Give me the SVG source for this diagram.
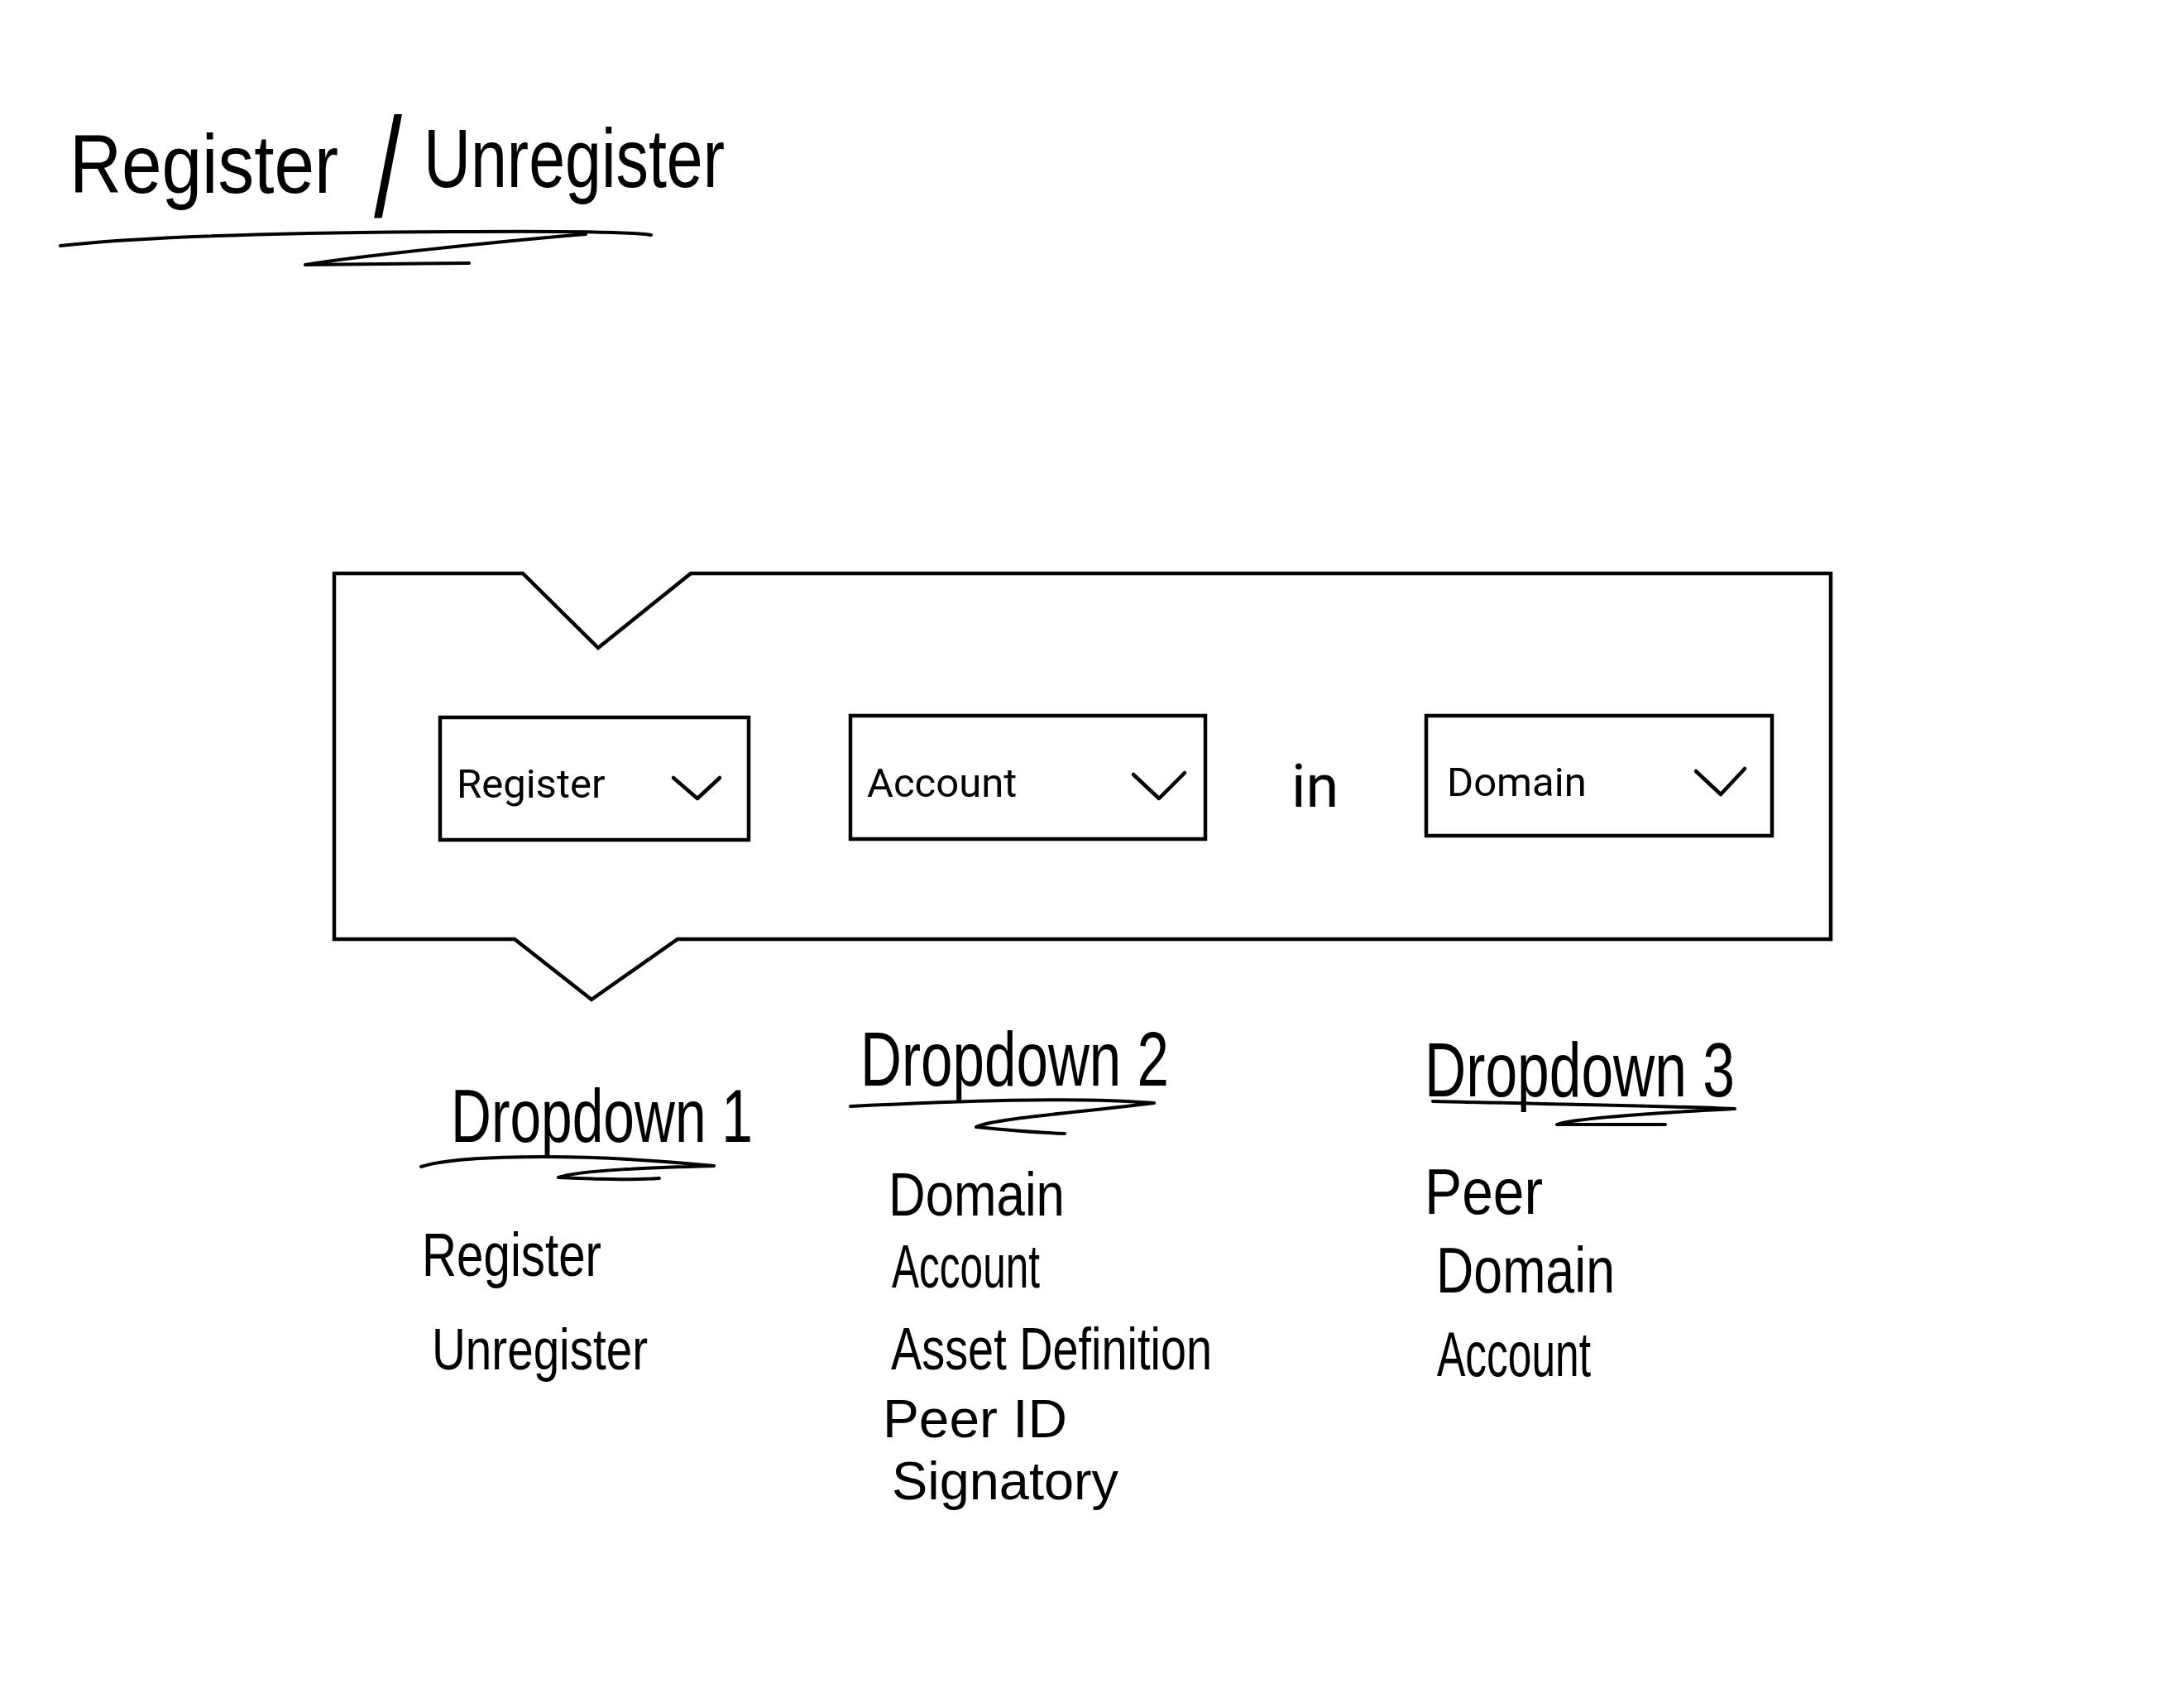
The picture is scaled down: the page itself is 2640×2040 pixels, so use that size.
<svg xmlns="http://www.w3.org/2000/svg" width="2640" height="2040" viewBox="0 0 2640 2040">
<style>
.ln{fill:none;stroke:#000;stroke-width:4.5;stroke-linejoin:miter;stroke-linecap:round}
.box{fill:#fff;stroke:#000;stroke-width:4.5}
.ui{font-family:Roboto,"Liberation Sans",sans-serif;font-size:49px;fill:#000}
.big{font-family:Roboto,"Liberation Sans",sans-serif;font-size:72px;fill:#000}
.hw{font-family:"Liberation Sans","DejaVu Sans",sans-serif;fill:#000}
.ul{fill:none;stroke:#000;stroke-width:4;stroke-linecap:round;stroke-linejoin:round}
.chev{fill:none;stroke:#000;stroke-width:4.5;stroke-linecap:round;stroke-linejoin:round}
</style>
<rect width="2640" height="2040" fill="#fff"/>

<g id="title">
<text class="hw" font-size="100" y="233"><tspan x="84" textLength="325" lengthAdjust="spacingAndGlyphs">Register</tspan><tspan x="452" y="262" font-size="170" textLength="34" lengthAdjust="spacingAndGlyphs">/</tspan><tspan x="512" y="226" textLength="364" lengthAdjust="spacingAndGlyphs">Unregister</tspan></text>
<path class="ul" d="M73,297 C180,285 350,281 550,280 C680,279 760,280 787,284"/>
<path class="ul" d="M708,283 C600,292 430,310 369,320 C450,319 520,318 567,318"/>
</g>

<g id="block">
<path class="ln" d="M404,693 L632,693 L723,783 L835,693 L2213,693 L2213,1135 L819,1135 L715,1208 L622,1135 L404,1135 Z"/>
</g>

<g id="dropdown1-box">
<rect class="box" x="532" y="867" width="373" height="148"/>
<text class="ui" x="552" y="964">Register</text>
<polyline class="chev" points="814,940 843,965 870,940"/>
</g>

<g id="dropdown2-box">
<rect class="box" x="1028" y="865" width="429" height="149"/>
<text class="ui" x="1048" y="963">Account</text>
<polyline class="chev" points="1370,936 1401,965 1432,934"/>
</g>

<g id="in-label">
<text class="big" x="1561" y="975">in</text>
</g>

<g id="dropdown3-box">
<rect class="box" x="1724" y="865" width="418" height="145"/>
<text class="ui" x="1749" y="962">Domain</text>
<polyline class="chev" points="2050,932 2080,960 2109,929"/>
</g>

<g id="dropdown1-notes">
<text class="hw" font-size="90" x="545" y="1380" textLength="365" lengthAdjust="spacingAndGlyphs">Dropdown 1</text>
<path class="ul" d="M509,1410 C540,1400 600,1398 660,1398 C740,1398 810,1404 863,1409 C790,1411 700,1414 675,1423 C720,1425 770,1426 797,1424"/>
<text class="hw" font-size="74" x="510" y="1542" textLength="217" lengthAdjust="spacingAndGlyphs">Register</text>
<text class="hw" font-size="70" x="522" y="1655" textLength="261" lengthAdjust="spacingAndGlyphs">Unregister</text>
</g>

<g id="dropdown2-notes">
<text class="hw" font-size="92" x="1040" y="1312" textLength="373" lengthAdjust="spacingAndGlyphs">Dropdown 2</text>
<path class="ul" d="M1028,1337 C1150,1331 1300,1325 1395,1333 C1300,1345 1200,1352 1180,1362 C1220,1366 1260,1369 1287,1370"/>
<text class="hw" font-size="74" x="1074" y="1469" textLength="213" lengthAdjust="spacingAndGlyphs">Domain</text>
<text class="hw" font-size="74" x="1078" y="1556" textLength="179" lengthAdjust="spacingAndGlyphs">Account</text>
<text class="hw" font-size="72" x="1077" y="1655" textLength="388" lengthAdjust="spacingAndGlyphs">Asset Definition</text>
<text class="hw" font-size="64" x="1067" y="1737" textLength="223" lengthAdjust="spacingAndGlyphs">Peer ID</text>
<text class="hw" font-size="64" x="1078" y="1812" textLength="274" lengthAdjust="spacingAndGlyphs">Signatory</text>
</g>

<g id="dropdown3-notes">
<text class="hw" font-size="92" x="1722" y="1325" textLength="375" lengthAdjust="spacingAndGlyphs">Dropdown 3</text>
<path class="ul" d="M1732,1331 C1850,1334 2000,1336 2097,1340 C2000,1345 1900,1352 1882,1359 C1930,1359 1980,1359 2013,1359"/>
<text class="hw" font-size="78" x="1722" y="1467" textLength="143" lengthAdjust="spacingAndGlyphs">Peer</text>
<text class="hw" font-size="78" x="1736" y="1562" textLength="216" lengthAdjust="spacingAndGlyphs">Domain</text>
<text class="hw" font-size="76" x="1737" y="1663" textLength="186" lengthAdjust="spacingAndGlyphs">Account</text>
</g>

<g id="connectors"></g>
</svg>
